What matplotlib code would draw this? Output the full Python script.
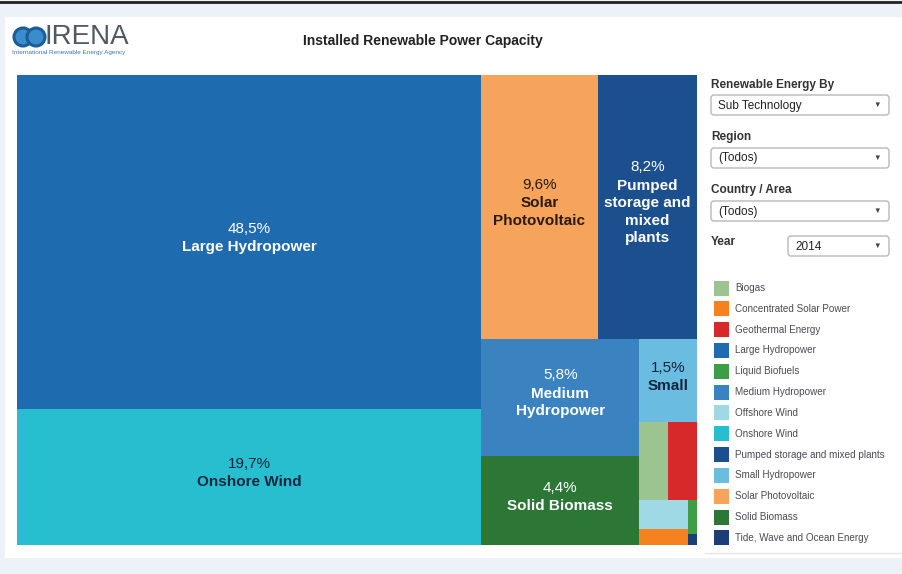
import matplotlib
matplotlib.use('Agg')
import matplotlib.pyplot as plt
from matplotlib.patches import Rectangle, FancyBboxPatch, Circle

plt.rcParams['font.family'] = ['Liberation Sans', 'DejaVu Sans']

# share of installed capacity 2014 (%), largest first
techs = ['Large Hydropower', 'Onshore Wind', 'Solar Photovoltaic',
         'Pumped storage and mixed plants', 'Medium Hydropower', 'Solid Biomass',
         'Small Hydropower', 'Biogas', 'Geothermal Energy', 'Offshore Wind',
         'Concentrated Solar Power', 'Liquid Biofuels', 'Tide, Wave and Ocean Energy']
shares = [48.5, 19.7, 9.6, 8.2, 5.8, 4.4, 1.5, 0.7, 0.7, 0.45, 0.24, 0.09, 0.03]
box_labels = ['Large Hydropower', 'Onshore Wind', 'Solar\nPhotovoltaic',
              'Pumped\nstorage and\nmixed\nplants', 'Medium\nHydropower', 'Solid Biomass',
              'Small', None, None, None, None, None, None]

colors = {
    'Biogas': '#9cc491',
    'Concentrated Solar Power': '#f5821f',
    'Geothermal Energy': '#d7282a',
    'Large Hydropower': '#1f6bb0',
    'Liquid Biofuels': '#3f9e45',
    'Medium Hydropower': '#3a82c0',
    'Offshore Wind': '#9fd9e6',
    'Onshore Wind': '#27bfcf',
    'Pumped storage and mixed plants': '#1b4f8e',
    'Small Hydropower': '#6abde1',
    'Solar Photovoltaic': '#f6a35c',
    'Solid Biomass': '#2c7736',
    'Tide, Wave and Ocean Energy': '#1c3e78',
}
label_colors = {'Onshore Wind': '#13253f', 'Solar Photovoltaic': '#2a1a0c',
                'Small Hydropower': '#13253f'}

# strip structure of the treemap (indices into techs)
layout = ('cols', [('rows', [0, 1]),
                   ('rows', [('cols', [2, 3]),
                             ('cols', [('rows', [4, 5]),
                                       ('rows', [6, ('cols', [7, 8]),
                                                 ('cols', [('rows', [9, 10]),
                                                           ('rows', [11, 12])])])])])])


def total(node):
    if isinstance(node, int):
        return shares[node]
    return sum(total(k) for k in node[1])


rects = {}


def place(node, x0, y0, w, h):
    if isinstance(node, int):
        rects[node] = (x0, y0, w, h)
        return
    kind, kids = node
    tot = total(node)
    pos = 0.0
    for k in kids:
        f = total(k) / tot
        if kind == 'cols':
            place(k, x0 + pos * w, y0, f * w, h)
        else:
            place(k, x0, y0 + pos * h, w, f * h)
        pos += f


place(layout, 0.0, 0.0, 1.0, 1.0)

W, H = 903, 574
fig = plt.figure(figsize=(W / 100, H / 100), dpi=100)
fig.patch.set_facecolor('#edf1f8')

bg = fig.add_axes([0, 0, 1, 1])
bg.set_xlim(0, W)
bg.set_ylim(H, 0)
bg.axis('off')
bg.add_patch(Rectangle((5, 17), 898, 541, facecolor='white', edgecolor='none'))
bg.plot([0, W], [1.5, 1.5], color='#222222', lw=2)

# logo
for cx in (23, 36):
    bg.add_patch(Circle((cx, 37), 9, facecolor='#3b8ccc', edgecolor='#1b5d97', lw=2.2))
bg.text(45, 36.5, 'IRENA', fontsize=20, color='#505860', va='center', ha='left')
bg.text(12, 52.5, 'International Renewable Energy Agency', fontsize=4.6,
        color='#3b78b8', va='center', ha='left')
bg.text(423, 41, 'Installed Renewable Power Capacity', fontsize=10, fontweight='bold',
        color='#222222', ha='center', va='center')

# filter controls
controls = [('Renewable Energy By', 'Sub Technology', 85, 95),
            ('Region', '(Todos)', 137, 148),
            ('Country / Area', '(Todos)', 190, 201)]
for title, val, ty, by in controls:
    bg.text(711, ty, title, fontsize=8.5, fontweight='bold', color='#333333', va='center')
    bg.add_patch(FancyBboxPatch((711, by), 178, 20, boxstyle='round,pad=0,rounding_size=3',
                                facecolor='white', edgecolor='#b8b8b8', lw=1))
    bg.text(718, by + 10.5, val, fontsize=8.5, color='#222222', va='center')
    bg.text(877, by + 10, '▼', fontsize=5.5, color='#444444', va='center', ha='center')
bg.text(711, 242, 'Year', fontsize=8.5, fontweight='bold', color='#333333', va='center')
bg.add_patch(FancyBboxPatch((788, 236), 101, 20, boxstyle='round,pad=0,rounding_size=3',
                            facecolor='white', edgecolor='#b8b8b8', lw=1))
bg.text(795, 246.5, '2014', fontsize=8.5, color='#222222', va='center')
bg.text(877, 246, '▼', fontsize=5.5, color='#444444', va='center', ha='center')

# legend
for i, name in enumerate(sorted(techs)):
    y = 288 + i * 20.83
    bg.add_patch(Rectangle((714, y - 7.5), 15, 15, facecolor=colors[name], edgecolor='none'))
    bg.text(735, y, name, fontsize=7.1, color='#4a4a55', va='center')
bg.plot([705, 903], [553, 553], color='#e2e2e2', lw=0.8)

# treemap
tm = fig.add_axes([17 / W, 1 - 545 / H, 680 / W, 470 / H])
tm.set_xlim(0, 1)
tm.set_ylim(1, 0)
tm.axis('off')
step = 18 / 470
for i, name in enumerate(techs):
    x0, y0, w, h = rects[i]
    tm.bar(x0, h, width=w, bottom=y0, align='edge', color=colors[name], edgecolor='none')
    if box_labels[i]:
        pct = f'{shares[i]:.1f}'.replace('.', ',') + '%'
        c = label_colors.get(name, 'white')
        n = box_labels[i].count('\n') + 1
        cx, cy = x0 + w / 2, y0 + h / 2 - 4 / 470
        top = cy - step * n / 2
        tm.text(cx, top, pct, fontsize=11, color=c, ha='center', va='center')
        tm.text(cx, top + step * (n + 1) / 2, box_labels[i], fontsize=11, fontweight='bold',
                color=c, ha='center', va='center', linespacing=1.32)

fig.savefig('out.png', dpi=100, facecolor=fig.get_facecolor())
